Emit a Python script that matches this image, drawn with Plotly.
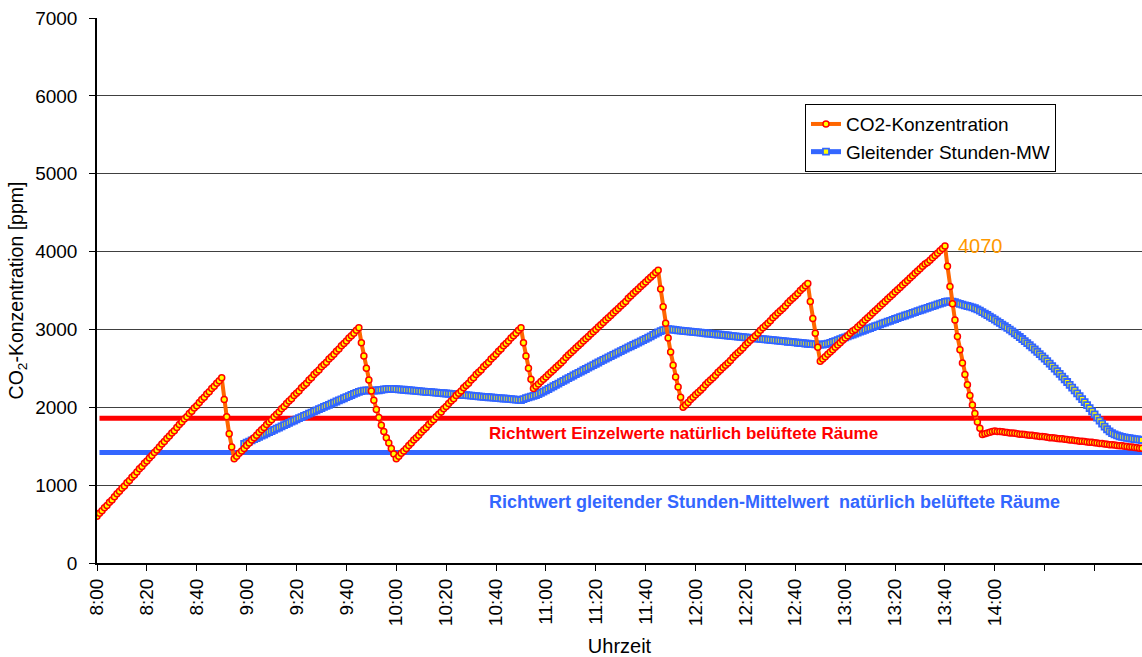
import plotly.graph_objects as go

# ---- data (one value per minute, starting 8:00) ----
co2_ppm = [
    600, 640, 670, 710, 740, 780, 810, 850, 890, 920, 960, 990, 1030, 1060, 1100, 1130, 1170, 1210, 1240, 1280,
    1310, 1350, 1380, 1420, 1450, 1490, 1530, 1560, 1600, 1630, 1670, 1700, 1740, 1780, 1810, 1850, 1880, 1920, 1950, 1990,
    2020, 2060, 2100, 2130, 2170, 2200, 2240, 2270, 2310, 2340, 2380, 2100, 1880, 1660, 1490, 1340, 1370, 1410, 1440, 1470,
    1510, 1540, 1580, 1610, 1640, 1680, 1710, 1740, 1780, 1810, 1840, 1880, 1910, 1940, 1980, 2010, 2050, 2080, 2110, 2150,
    2180, 2210, 2250, 2280, 2310, 2350, 2380, 2420, 2450, 2480, 2520, 2550, 2580, 2620, 2650, 2680, 2720, 2750, 2790, 2820,
    2850, 2890, 2920, 2950, 2990, 3020, 2830, 2660, 2500, 2350, 2210, 2090, 1970, 1870, 1770, 1690, 1610, 1540, 1470, 1400,
    1340, 1370, 1410, 1440, 1470, 1510, 1540, 1580, 1610, 1640, 1680, 1710, 1740, 1780, 1810, 1840, 1880, 1910, 1940, 1980,
    2010, 2050, 2080, 2110, 2150, 2180, 2210, 2250, 2280, 2310, 2350, 2380, 2420, 2450, 2480, 2520, 2550, 2580, 2620, 2650,
    2680, 2720, 2750, 2790, 2820, 2850, 2890, 2920, 2950, 2990, 3020, 2830, 2660, 2500, 2360, 2240, 2270, 2300, 2330, 2360,
    2390, 2420, 2450, 2480, 2510, 2540, 2570, 2600, 2640, 2670, 2700, 2730, 2760, 2790, 2820, 2850, 2880, 2910, 2940, 2970,
    3000, 3030, 3060, 3090, 3120, 3150, 3180, 3210, 3240, 3270, 3300, 3330, 3360, 3400, 3430, 3460, 3490, 3520, 3550, 3580,
    3610, 3640, 3670, 3700, 3730, 3760, 3520, 3290, 3080, 2890, 2710, 2540, 2390, 2260, 2130, 2000, 2030, 2060, 2100, 2130,
    2160, 2190, 2220, 2250, 2290, 2320, 2350, 2380, 2410, 2450, 2480, 2510, 2540, 2570, 2600, 2640, 2670, 2700, 2730, 2760,
    2800, 2830, 2860, 2890, 2920, 2950, 2990, 3020, 3050, 3080, 3110, 3150, 3180, 3210, 3240, 3270, 3300, 3340, 3370, 3400,
    3430, 3460, 3500, 3530, 3560, 3590, 3360, 3140, 2950, 2770, 2590, 2620, 2650, 2680, 2710, 2740, 2770, 2800, 2830, 2860,
    2890, 2920, 2950, 2980, 3000, 3030, 3060, 3090, 3120, 3150, 3180, 3210, 3240, 3270, 3300, 3330, 3360, 3390, 3420, 3450,
    3480, 3510, 3540, 3570, 3600, 3630, 3660, 3690, 3720, 3750, 3780, 3810, 3840, 3860, 3890, 3920, 3950, 3980, 4010, 4040,
    4070, 3810, 3550, 3330, 3120, 2910, 2740, 2570, 2420, 2290, 2150, 2030, 1920, 1810, 1730, 1650, 1660, 1670, 1680, 1690,
    1695, 1690, 1690, 1685, 1680, 1675, 1670, 1670, 1665, 1660, 1655, 1655, 1650, 1645, 1640, 1640, 1635, 1630, 1625, 1625,
    1620, 1615, 1610, 1610, 1605, 1600, 1595, 1595, 1590, 1585, 1580, 1580, 1575, 1570, 1565, 1565, 1560, 1555, 1550, 1550,
    1545, 1540, 1535, 1535, 1530, 1525, 1520, 1520, 1515, 1510, 1505, 1505, 1500, 1495, 1490, 1490, 1485, 1480, 1475, 1475,
]

# gliding hourly mean, first value at minute index 59 (8:59)
mw_start = 59
mw_ppm = [
    1530,
    1545, 1560, 1575, 1590, 1605, 1620, 1635, 1650, 1665, 1680, 1695, 1710, 1725, 1740, 1755, 1770, 1785, 1800, 1815, 1830,
    1845, 1860, 1874, 1889, 1903, 1918, 1932, 1947, 1961, 1976, 1990, 2004, 2018, 2032, 2046, 2060, 2074, 2088, 2102, 2116,
    2130, 2144, 2158, 2171, 2185, 2198, 2208, 2214, 2217, 2217, 2214, 2214, 2216, 2219, 2224, 2230, 2234, 2236, 2237, 2236,
    2233, 2230, 2227, 2225, 2222, 2219, 2216, 2213, 2211, 2208, 2205, 2202, 2199, 2197, 2194, 2191, 2188, 2185, 2183, 2180,
    2177, 2174, 2171, 2169, 2166, 2163, 2160, 2157, 2155, 2152, 2149, 2146, 2143, 2141, 2138, 2135, 2132, 2129, 2127, 2124,
    2121, 2118, 2115, 2113, 2110, 2107, 2104, 2101, 2099, 2096, 2093, 2105, 2117, 2127, 2137, 2146, 2157, 2170, 2184, 2200,
    2218, 2235, 2253, 2270, 2288, 2305, 2322, 2340, 2357, 2374, 2391, 2408, 2425, 2442, 2459, 2476, 2492, 2509, 2526, 2542,
    2559, 2575, 2592, 2608, 2624, 2641, 2657, 2673, 2689, 2705, 2721, 2737, 2753, 2769, 2784, 2800, 2816, 2831, 2847, 2862,
    2878, 2895, 2912, 2929, 2946, 2963, 2978, 2990, 2998, 3002, 3001, 2997, 2993, 2989, 2985, 2981, 2978, 2974, 2971, 2968,
    2965, 2961, 2958, 2955, 2951, 2948, 2945, 2941, 2938, 2935, 2932, 2928, 2925, 2922, 2918, 2915, 2912, 2908, 2905, 2902,
    2899, 2895, 2892, 2889, 2885, 2882, 2879, 2875, 2872, 2869, 2866, 2862, 2859, 2856, 2852, 2849, 2846, 2842, 2839, 2836,
    2833, 2829, 2826, 2823, 2819, 2816, 2813, 2811, 2809, 2807, 2805, 2806, 2810, 2817, 2827, 2839, 2851, 2863, 2875, 2887,
    2899, 2911, 2923, 2935, 2947, 2959, 2971, 2983, 2995, 3007, 3018, 3030, 3042, 3053, 3065, 3077, 3088, 3100, 3111, 3123,
    3134, 3145, 3157, 3168, 3179, 3190, 3201, 3212, 3223, 3234, 3245, 3256, 3267, 3278, 3289, 3300, 3310, 3321, 3332, 3342,
    3353, 3359, 3360, 3357, 3349, 3338, 3328, 3318, 3309, 3301, 3294, 3284, 3272, 3257, 3241, 3223, 3204, 3185, 3165, 3145,
    3125, 3104, 3083, 3062, 3041, 3019, 2997, 2974, 2951, 2928, 2903, 2877, 2851, 2824, 2797, 2770, 2742, 2713, 2684, 2654,
    2624, 2593, 2561, 2529, 2496, 2463, 2429, 2395, 2360, 2325, 2289, 2253, 2216, 2179, 2142, 2104, 2066, 2027, 1988, 1948,
    1908, 1868, 1828, 1789, 1752, 1718, 1690, 1668, 1651, 1638, 1628, 1620, 1613, 1607, 1602, 1597, 1592, 1588, 1584, 1580,
]

# guideline values
richtwert_einzel = 1860
richtwert_mw = 1420
guide_x = [1, len(co2_ppm) - 1]

# labelled ticks and all tick marks (every 20 minutes)
tick_pos = list(range(0, 361, 20))
tick_labels = ["8:00", "8:20", "8:40", "9:00", "9:20", "9:40", "10:00", "10:20", "10:40",
               "11:00", "11:20", "11:40", "12:00", "12:20", "12:40", "13:00", "13:20", "13:40",
               "14:00"]
tick_marks = list(range(0, 401, 20))

peak_label = "4070"

FONT = "Arial, 'Liberation Sans', sans-serif"

x_co2 = list(range(len(co2_ppm)))
x_mw = list(range(mw_start, mw_start + len(mw_ppm)))

fig = go.Figure()

fig.add_trace(go.Scatter(
    x=guide_x, y=[richtwert_einzel] * 2, mode="lines",
    line=dict(color="#FF0000", width=5), showlegend=False, hoverinfo="skip"))
fig.add_trace(go.Scatter(
    x=guide_x, y=[richtwert_mw] * 2, mode="lines",
    line=dict(color="#3366FF", width=5), showlegend=False, hoverinfo="skip"))

fig.add_trace(go.Scatter(
    x=x_mw, y=mw_ppm, mode="lines+markers", name="Gleitender Stunden-MW",
    line=dict(color="#3366FF", width=5),
    marker=dict(symbol="square", size=6, color="#FFFF00",
                line=dict(color="#3366FF", width=1.8)),
    legendrank=2))

fig.add_trace(go.Scatter(
    x=x_co2, y=co2_ppm, mode="lines+markers", name="CO2-Konzentration",
    line=dict(color="#FF6600", width=4),
    marker=dict(symbol="circle", size=6, color="#FFFF00",
                line=dict(color="#FF0000", width=1.5)),
    legendrank=1))

fig.add_annotation(x=340, y=4070, text=peak_label, showarrow=False,
                   xanchor="left", yanchor="middle", xshift=11, yshift=0,
                   font=dict(family=FONT, size=20, color="#FF9900"))
fig.add_annotation(x=0.373, xref="paper", y=1665, yref="y",
                   text="<b>Richtwert Einzelwerte natürlich belüftete Räume</b>",
                   showarrow=False, xanchor="left", yanchor="middle",
                   font=dict(family=FONT, size=17, color="#FF0000"))
fig.add_annotation(x=0.373, xref="paper", y=785, yref="y",
                   text="<b>Richtwert gleitender Stunden-Mittelwert&nbsp; natürlich belüftete Räume</b>",
                   showarrow=False, xanchor="left", yanchor="middle",
                   font=dict(family=FONT, size=18, color="#3366FF"))

fig.update_layout(
    width=1142, height=657,
    margin=dict(l=97, r=0, t=18, b=94),
    paper_bgcolor="white", plot_bgcolor="white",
    font=dict(family=FONT, size=18, color="#000000"),
    showlegend=True,
    legend=dict(x=0.6775, y=0.842, xanchor="left", yanchor="top",
                bgcolor="white", bordercolor="#000000", borderwidth=1,
                font=dict(family=FONT, size=19, color="#000000"),
                tracegroupgap=0, itemwidth=30),
    xaxis=dict(range=[0, len(co2_ppm) - 1], tickmode="array", tickvals=tick_pos,
               ticktext=tick_labels, tickangle=-90, ticks="outside", ticklen=6,
               tickcolor="#000000", showline=True, linecolor="#000000", linewidth=2,
               showgrid=False, zeroline=False,
               minor=dict(tickmode="array", tickvals=tick_marks, ticks="outside",
                          ticklen=6, tickcolor="#000000", showgrid=False),
               tickfont=dict(family=FONT, size=19),
               title=dict(text="Uhrzeit", font=dict(family=FONT, size=20), standoff=18)),
    yaxis=dict(range=[0, 7000], tickmode="linear", tick0=0, dtick=1000,
               ticks="outside", ticklen=6, tickcolor="#000000",
               showline=True, linecolor="#000000", linewidth=1.5,
               showgrid=True, gridcolor="#404040", gridwidth=1, zeroline=False,
               tickfont=dict(family=FONT, size=19), ticklabelstandoff=8,
               title=dict(text="CO<sub>2</sub>-Konzentration [ppm]",
                          font=dict(family=FONT, size=19.5), standoff=6)),
)

fig.write_html("out.html",
               config={"displayModeBar": False},
               post_script="document.body.style.margin='0';document.body.style.overflow='hidden';")
